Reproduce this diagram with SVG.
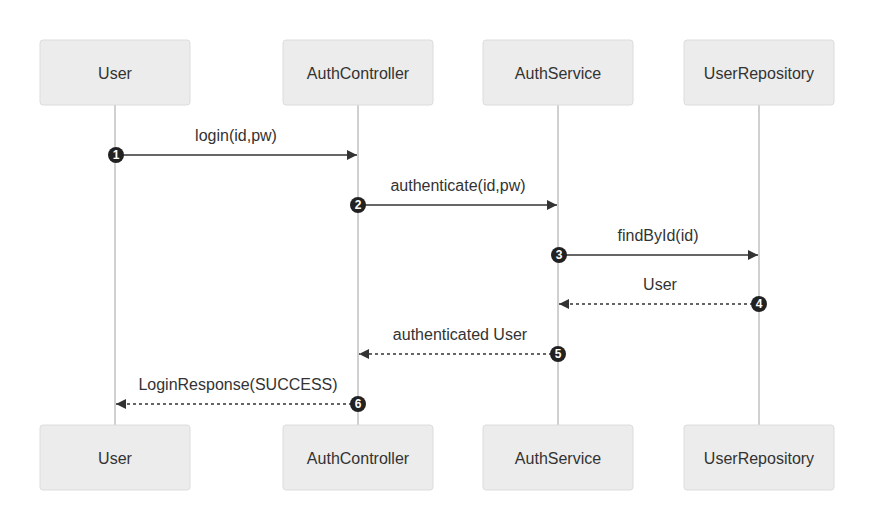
<svg xmlns="http://www.w3.org/2000/svg" width="874" height="530" viewBox="0 0 874 530">
<style>
.box{fill:#ececec;stroke:#dcdcdc;stroke-width:1}
.lbl{font-family:"Liberation Sans",Arial,sans-serif;font-size:16px;fill:#333;text-anchor:middle}
.life{stroke:#d0d0d0;stroke-width:2}
.msg{stroke:#333;stroke-width:1.6;fill:none}
.ret{stroke:#333;stroke-width:1.6;fill:none;stroke-dasharray:3 3}
.num{fill:#222}
.nt{font-family:"Liberation Sans",Arial,sans-serif;font-size:12px;font-weight:bold;fill:#fff;text-anchor:middle}
</style>
<defs>
<marker id="ah" viewBox="0 0 10 10" refX="10" refY="5" markerWidth="11" markerHeight="10" markerUnits="userSpaceOnUse" orient="auto">
<path d="M0,0 L10,5 L0,10 z" fill="#333"/>
</marker>
</defs>
<rect width="874" height="530" fill="#fff"/>
<g id="lifelines">
<line class="life" x1="115" y1="105" x2="115" y2="425"/>
<line class="life" x1="358" y1="105" x2="358" y2="425"/>
<line class="life" x1="558" y1="105" x2="558" y2="425"/>
<line class="life" x1="759" y1="105" x2="759" y2="425"/>
</g>
<g id="user">
<rect class="box" x="40" y="40" width="150" height="65" rx="3"/>
<text class="lbl" x="115" y="79">User</text>
<rect class="box" x="40" y="425" width="150" height="65" rx="3"/>
<text class="lbl" x="115" y="464">User</text>
</g>
<g id="authcontroller">
<rect class="box" x="283" y="40" width="150" height="65" rx="3"/>
<text class="lbl" x="358" y="79">AuthController</text>
<rect class="box" x="283" y="425" width="150" height="65" rx="3"/>
<text class="lbl" x="358" y="464">AuthController</text>
</g>
<g id="authservice">
<rect class="box" x="483" y="40" width="150" height="65" rx="3"/>
<text class="lbl" x="558" y="79">AuthService</text>
<rect class="box" x="483" y="425" width="150" height="65" rx="3"/>
<text class="lbl" x="558" y="464">AuthService</text>
</g>
<g id="userrepository">
<rect class="box" x="684" y="40" width="150" height="65" rx="3"/>
<text class="lbl" x="759" y="79">UserRepository</text>
<rect class="box" x="684" y="425" width="150" height="65" rx="3"/>
<text class="lbl" x="759" y="464">UserRepository</text>
</g>
<g id="connectors">
<line class="msg" x1="115" y1="155" x2="357" y2="155" marker-end="url(#ah)"/>
<text class="lbl" x="236" y="141">login(id,pw)</text>
<line class="msg" x1="358" y1="205" x2="557" y2="205" marker-end="url(#ah)"/>
<text class="lbl" x="458" y="191">authenticate(id,pw)</text>
<line class="msg" x1="558" y1="255" x2="758" y2="255" marker-end="url(#ah)"/>
<text class="lbl" x="658" y="241">findById(id)</text>
<line class="ret" x1="759" y1="304" x2="559" y2="304" marker-end="url(#ah)"/>
<text class="lbl" x="660" y="290">User</text>
<line class="ret" x1="558" y1="354" x2="359" y2="354" marker-end="url(#ah)"/>
<text class="lbl" x="460" y="340">authenticated User</text>
<line class="ret" x1="358" y1="404" x2="116" y2="404" marker-end="url(#ah)"/>
<text class="lbl" x="238" y="390">LoginResponse(SUCCESS)</text>
</g>
<g id="numbers">
<circle class="num" cx="116" cy="155" r="8"/><text class="nt" x="116" y="159">1</text>
<circle class="num" cx="358" cy="205" r="8"/><text class="nt" x="358" y="209">2</text>
<circle class="num" cx="559" cy="255" r="8"/><text class="nt" x="559" y="259">3</text>
<circle class="num" cx="759" cy="304" r="8"/><text class="nt" x="759" y="308">4</text>
<circle class="num" cx="558" cy="354" r="8"/><text class="nt" x="558" y="358">5</text>
<circle class="num" cx="358" cy="404" r="8"/><text class="nt" x="358" y="408">6</text>
</g>
</svg>
